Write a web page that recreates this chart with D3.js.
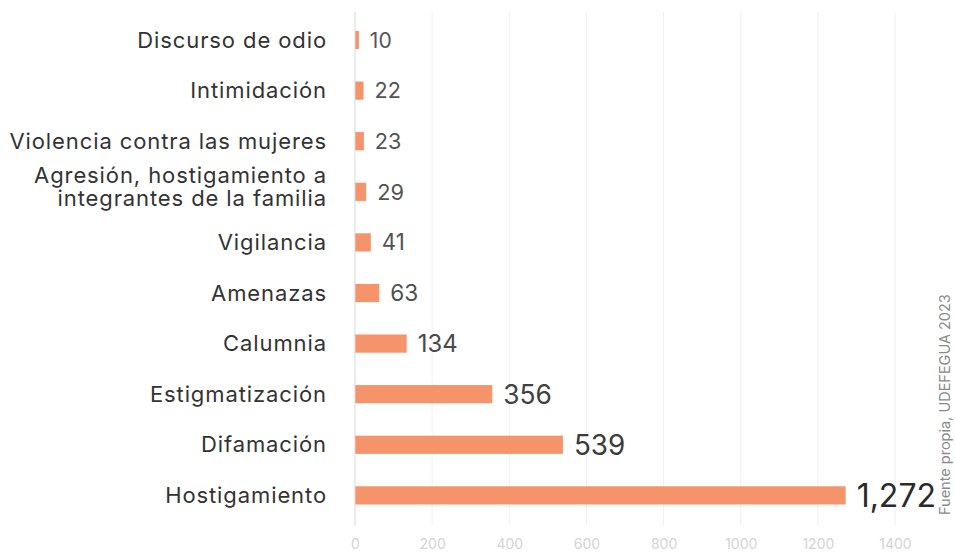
<!DOCTYPE html>
<html>
<head>
<meta charset="utf-8">
<script src="https://cdn.jsdelivr.net/npm/d3@7"></script>
<style>
  body { margin: 0; background: #fff; }
  svg { display: block; font-family: Inter, "Noto Sans", sans-serif; }
</style>
</head>
<body>
<script>
const categories = [
  "Discurso de odio",
  "Intimidación",
  "Violencia contra las mujeres",
  "Agresión, hostigamiento a\nintegrantes de la familia",
  "Vigilancia",
  "Amenazas",
  "Calumnia",
  "Estigmatización",
  "Difamación",
  "Hostigamiento"
];
const values = [10, 22, 23, 29, 41, 63, 134, 356, 539, 1272];
const tickValues = [0, 200, 400, 600, 800, 1000, 1200, 1400];
const source = "Fuente propia, UDEFEGUA 2023";

const width = 955;
const height = 552;

const svg = d3.select("body")
  .append("svg")
  .attr("width", width)
  .attr("height", height);

const x = d3.scaleLinear().domain([0, 1400]).range([355, 895]);

const y = d3.scaleBand()
  .domain(categories)
  .range([21.8, 513.6])
  .paddingInner(0.64)
  .paddingOuter(0.18);

// value label size grows with the value
const fontSize = d3.scaleSqrt().domain([0, d3.max(values)]).range([20, 32]);
const labelColor = d3.scaleSqrt().domain([0, d3.max(values)]).range(["#5a5a5a", "#2a2a2a"]);

// grid
svg.append("g")
  .selectAll("line")
  .data(tickValues.slice(1))
  .join("line")
  .attr("x1", d => x(d))
  .attr("x2", d => x(d))
  .attr("y1", 12)
  .attr("y2", 525)
  .attr("stroke", "#efefef")
  .attr("stroke-width", 1);

// bottom axis ticks (labels only)
const axis = svg.append("g")
  .attr("transform", "translate(0,536)")
  .call(d3.axisBottom(x).tickValues(tickValues).tickSize(0).tickFormat(d3.format("d")));
axis.select(".domain").remove();
axis.selectAll("text")
  .attr("fill", "#d4d4d4")
  .attr("font-size", 14)
  .attr("font-family", "Inter, sans-serif");

// bars
const data = categories.map((c, i) => ({ cat: c, value: values[i] }));

svg.append("g")
  .selectAll("rect")
  .data(data)
  .join("rect")
  .attr("x", x(0))
  .attr("y", d => y(d.cat))
  .attr("width", d => x(d.value) - x(0))
  .attr("height", y.bandwidth())
  .attr("fill", "#f5936a");

// zero line
svg.append("line")
  .attr("x1", x(0))
  .attr("x2", x(0))
  .attr("y1", 12)
  .attr("y2", 525)
  .attr("stroke", "#d6d6d6")
  .attr("stroke-width", 1);

// category labels
const cat = svg.append("g")
  .selectAll("text")
  .data(data)
  .join("text")
  .attr("x", 327)
  .attr("y", d => y(d.cat) + y.bandwidth() / 2)
  .attr("text-anchor", "end")
  .attr("font-size", 22)
  .attr("letter-spacing", 0.9)
  .attr("fill", "#333");

cat.each(function (d) {
  const lines = d.cat.split("\n");
  const t = d3.select(this);
  lines.forEach((line, i) => {
    t.append("tspan")
      .attr("x", 327)
      .attr("dy", i === 0 ? `${0.35 - (lines.length - 1) * 0.76}em` : "1.07em")
      .text(line);
  });
});

// value labels
svg.append("g")
  .selectAll("text")
  .data(data)
  .join("text")
  .attr("x", d => x(d.value) + 11)
  .attr("y", d => y(d.cat) + y.bandwidth() / 2)
  .attr("dy", "0.36em")
  .attr("font-size", d => fontSize(d.value))
  .attr("fill", d => labelColor(d.value))
  .text(d => d3.format(",")(d.value));

// source note
svg.append("text")
  .attr("transform", "translate(950,515) rotate(-90)")
  .attr("font-size", 14.5)
  .attr("fill", "#8a8a8a")
  .text(source);
</script>
</body>
</html>
